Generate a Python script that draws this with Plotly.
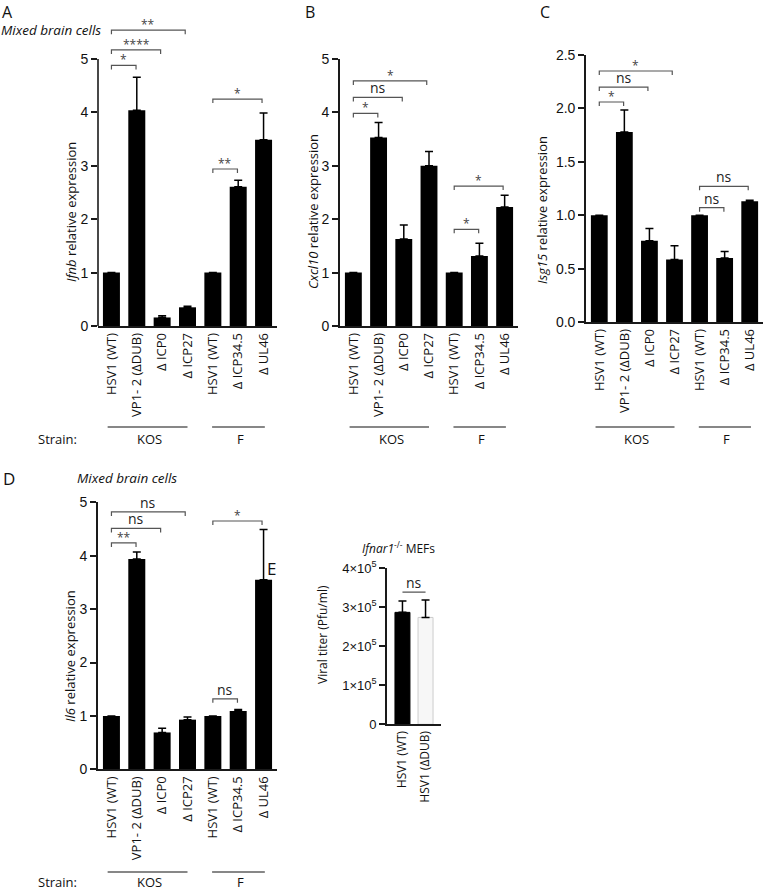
import plotly.graph_objects as go

W, H = 765, 891

# ---------------- data ----------------
categories = ["HSV1 (WT)", "VP1- 2 (ΔDUB)", "Δ ICP0", "Δ ICP27", "HSV1 (WT)", "Δ ICP34.5", "Δ UL46"]
positions = [0, 1, 2, 3, 4, 5, 6]

ifnb_mean = [1.0, 4.04, 0.16, 0.35, 1.0, 2.61, 3.49]
ifnb_err = [0.0, 0.62, 0.03, 0.02, 0.0, 0.12, 0.50]
ifnb_sig = [(0, 1, 4.88, "*"), (0, 2, 5.17, "****"), (0, 3, 5.54, "**"),
            (4, 5, 2.94, "**"), (4, 6, 4.25, "*")]

cxcl10_mean = [1.0, 3.53, 1.63, 3.00, 1.0, 1.31, 2.23]
cxcl10_err = [0.0, 0.28, 0.26, 0.27, 0.0, 0.24, 0.22]
cxcl10_sig = [(0, 1, 3.98, "*"), (0, 2, 4.28, "ns"), (0, 3, 4.59, "*"),
              (4, 5, 1.81, "*"), (4, 6, 2.62, "*")]

isg15_mean = [1.0, 1.78, 0.76, 0.585, 1.0, 0.60, 1.13]
isg15_err = [0.0, 0.205, 0.115, 0.13, 0.0, 0.06, 0.01]
isg15_sig = [(0, 1, 2.06, "*"), (0, 2, 2.20, "ns"), (0, 3, 2.35, "*"),
             (4, 5, 1.07, "ns"), (4, 6, 1.27, "ns")]

il6_mean = [1.0, 3.94, 0.69, 0.93, 1.0, 1.09, 3.55]
il6_err = [0.0, 0.13, 0.08, 0.05, 0.0, 0.03, 0.94]
il6_sig = [(0, 1, 4.24, "**"), (0, 2, 4.51, "ns"), (0, 3, 4.82, "ns"),
           (4, 5, 1.32, "ns"), (4, 6, 4.65, "*")]

titer_categories = ["HSV1 (WT)", "HSV1 (ΔDUB)"]
titer_positions = [0, 1]
titer_mean = [2.87e5, 2.74e5]
titer_err = [0.29e5, 0.45e5]
titer_sig = [(0, 1, 3.39e5, "ns")]
titer_tickvals = [0, 1e5, 2e5, 3e5, 4e5]
titer_ticktext = ["0", "1×10<sup>5</sup>", "2×10<sup>5</sup>", "3×10<sup>5</sup>", "4×10<sup>5</sup>"]

# ---------------- helpers ----------------
def px(x):
    return x / W

def py(y):
    return 1 - y / H

TXT = "Open Sans"
NUM = "Liberation Sans, Arial"
AXC = "#1a1a1a"

fig = go.Figure()
shapes = []
annotations = []

def note(**kw):
    kw.setdefault("showarrow", False)
    kw.setdefault("xanchor", "center")
    kw.setdefault("yanchor", "middle")
    kw.setdefault("borderpad", 0)
    annotations.append(kw)

def bar_panel(n, means, errs, sig, xdom_px, y0_px, ppu, yrange, tickvals, tickfmt,
              ytitle, ytitle_xy, strain_y, manual_yline=None):
    xa = "x" if n == 1 else f"x{n}"
    ya = "y" if n == 1 else f"y{n}"
    fig.add_trace(go.Bar(
        x=positions, y=means, width=0.67,
        marker=dict(color="black", line=dict(width=0)),
        error_y=dict(type="data", array=errs, arrayminus=[0] * len(errs), symmetric=False,
                     color="black", thickness=1.5, width=4),
        xaxis=xa, yaxis=ya, showlegend=False))
    top_px = y0_px - yrange[1] * ppu
    lay_x = "xaxis" if n == 1 else f"xaxis{n}"
    lay_y = "yaxis" if n == 1 else f"yaxis{n}"
    fig.layout[lay_x] = dict(
        domain=[px(xdom_px[0]), px(xdom_px[1])], anchor=ya, range=[-0.53, 6.53],
        tickvals=positions, ticktext=categories, tickangle=-90, ticks="", automargin=False,
        showline=True, linecolor=AXC, linewidth=1.6, showgrid=False, zeroline=False,
        tickfont=dict(family=TXT, size=13, color="#111"), fixedrange=True)
    fig.layout[lay_y] = dict(
        domain=[py(y0_px), py(top_px)], anchor=xa, range=yrange, automargin=False,
        tickvals=tickvals, tickformat=tickfmt, ticks="outside", ticklen=6, tickwidth=1.6,
        tickcolor=AXC, showline=manual_yline is None, linecolor=AXC, linewidth=1.6,
        showgrid=False, zeroline=False,
        tickfont=dict(family=NUM, size=14, color="#111"), fixedrange=True)
    if manual_yline is not None:
        shapes.append(dict(type="line", xref="paper", yref=ya, x0=px(xdom_px[0]), x1=px(xdom_px[0]),
                           y0=0, y1=manual_yline, line=dict(color=AXC, width=1.6)))
    d = 4.0 / ppu
    for (i, j, yv, lab) in sig:
        j2 = j - 0.03 * (j - i)
        shapes.append(dict(type="path", xref=xa, yref=ya,
                           path=f"M {i},{yv - d} L {i},{yv} L {j2},{yv} L {j2},{yv - d}",
                           line=dict(color="#555", width=1.2)))
        star = lab != "ns"
        note(xref=xa, yref=ya, x=(i + j2) / 2, y=yv, text=lab, yanchor="bottom",
             yshift=-4 if star else -1,
             font=dict(family=TXT, size=12 if star else 14, color="#444" if star else "#222"))
    note(xref="paper", yref="paper", x=px(ytitle_xy[0]), y=py(ytitle_xy[1]),
         text=ytitle, textangle=-90, font=dict(family=TXT, size=13, color="#111"))
    # strain lines
    line_y, text_y = strain_y
    for (a, b, lab) in [(-0.15, 3.0, "KOS"), (3.97, 6.05, "F")]:
        shapes.append(dict(type="line", xref=xa, yref="paper", x0=a, x1=b,
                           y0=py(line_y), y1=py(line_y), line=dict(color="#111", width=1.2)))
        note(xref=xa, yref="paper", x=(a + b) / 2 + 0.07, y=py(text_y), text=lab,
             font=dict(family=TXT, size=13, color="#111"))


bar_panel(1, ifnb_mean, ifnb_err, ifnb_sig, (98, 277), 326, 53.4, [0, 5.7], [0, 1, 2, 3, 4, 5], "d",
          "<i>Ifnb</i> relative expression", (71, 212), (427, 439), manual_yline=5)
bar_panel(2, cxcl10_mean, cxcl10_err, cxcl10_sig, (340, 518), 326, 53.4, [0, 5], [0, 1, 2, 3, 4, 5], "d",
          "<i>Cxcl10</i> relative expression", (313, 212), (427, 439))
bar_panel(3, isg15_mean, isg15_err, isg15_sig, (586, 763), 322, 106.8, [0, 2.5],
          [0, 0.5, 1.0, 1.5, 2.0, 2.5], ".1f",
          "<i>Isg15</i> relative expression", (542, 210), (427, 439))
bar_panel(4, il6_mean, il6_err, il6_sig, (98, 277), 769.3, 53.4, [0, 5], [0, 1, 2, 3, 4, 5], "d",
          "<i>Il6</i> relative expression", (70, 656), (872, 882))

# Strain labels
for yy in (439, 882):
    note(xref="paper", yref="paper", x=px(58), y=py(yy), text="Strain:",
         font=dict(family=TXT, size=13, color="#111"))

# ---------------- panel E ----------------
fig.add_trace(go.Bar(
    x=titer_positions, y=titer_mean, width=0.65,
    marker=dict(color=["black", "#f7f7f7"], line=dict(color=["black", "#cccccc"], width=1)),
    error_y=dict(type="data", array=titer_err, arrayminus=[0, 0], symmetric=False,
                 color="black", thickness=1.5, width=4),
    xaxis="x5", yaxis="y5", showlegend=False))
fig.layout["xaxis5"] = dict(
    domain=[px(387), px(441)], anchor="y5", range=[-0.67, 1.67], automargin=False,
    tickvals=titer_positions, ticktext=titer_categories, tickangle=-90, ticks="",
    showline=True, linecolor=AXC, linewidth=1.6, showgrid=False, zeroline=False,
    tickfont=dict(family=TXT, size=12, color="#111"), fixedrange=True)
fig.layout["yaxis5"] = dict(
    domain=[py(724.3), py(568.3)], anchor="x5", range=[0, 4e5], automargin=False,
    tickvals=titer_tickvals, ticktext=titer_ticktext, ticks="outside", ticklen=6, tickwidth=1.6,
    tickcolor=AXC, showline=True, linecolor=AXC, linewidth=1.6, showgrid=False, zeroline=False,
    tickfont=dict(family=NUM, size=13, color="#111"), fixedrange=True)
for (i, j, yv, lab) in titer_sig:
    shapes.append(dict(type="line", xref="x5", yref="y5", x0=i, x1=j, y0=yv, y1=yv,
                       line=dict(color="#555", width=1.2)))
    note(xref="x5", yref="y5", x=(i + j) / 2, y=yv, text=lab, yanchor="bottom", yshift=-1,
         font=dict(family=TXT, size=14, color="#222"))
note(xref="paper", yref="paper", x=px(322), y=py(635), text="Viral titer (Pfu/ml)", textangle=-90,
     font=dict(family=TXT, size=12, color="#111"))
note(xref="paper", yref="paper", x=px(398), y=py(548), text="<i>Ifnar1</i><sup>-/-</sup> MEFs",
     font=dict(family=TXT, size=12, color="#111"))

# ---------------- titles & panel letters ----------------
note(xref="paper", yref="paper", x=0, y=py(30), xanchor="left", text="<i>Mixed brain cells</i>",
     font=dict(family=TXT, size=13.5, color="#111"))
note(xref="paper", yref="paper", x=px(76), y=py(478), xanchor="left", text="<i>Mixed brain cells</i>",
     font=dict(family=TXT, size=13.5, color="#111"))
for lab, xx in [("A", 1), ("B", 304), ("C", 539)]:
    note(xref="paper", yref="paper", x=px(xx), y=1, xanchor="left", yanchor="top", text=lab,
         font=dict(family=TXT, size=16, color="#111"))
for lab, xx, yy in [("D", 2, 478), ("E", 266, 568)]:
    note(xref="paper", yref="paper", x=px(xx), y=py(yy), xanchor="left", text=lab,
         font=dict(family=TXT, size=17, color="#111"))

fig.update_layout(
    width=W, height=H, margin=dict(l=0, r=0, t=0, b=0, autoexpand=False),
    paper_bgcolor="white", plot_bgcolor="white",
    shapes=shapes, annotations=annotations, bargap=0.3)

fig.write_html("out.html", config={"displayModeBar": False},
               post_script="document.body.style.margin='0';")
